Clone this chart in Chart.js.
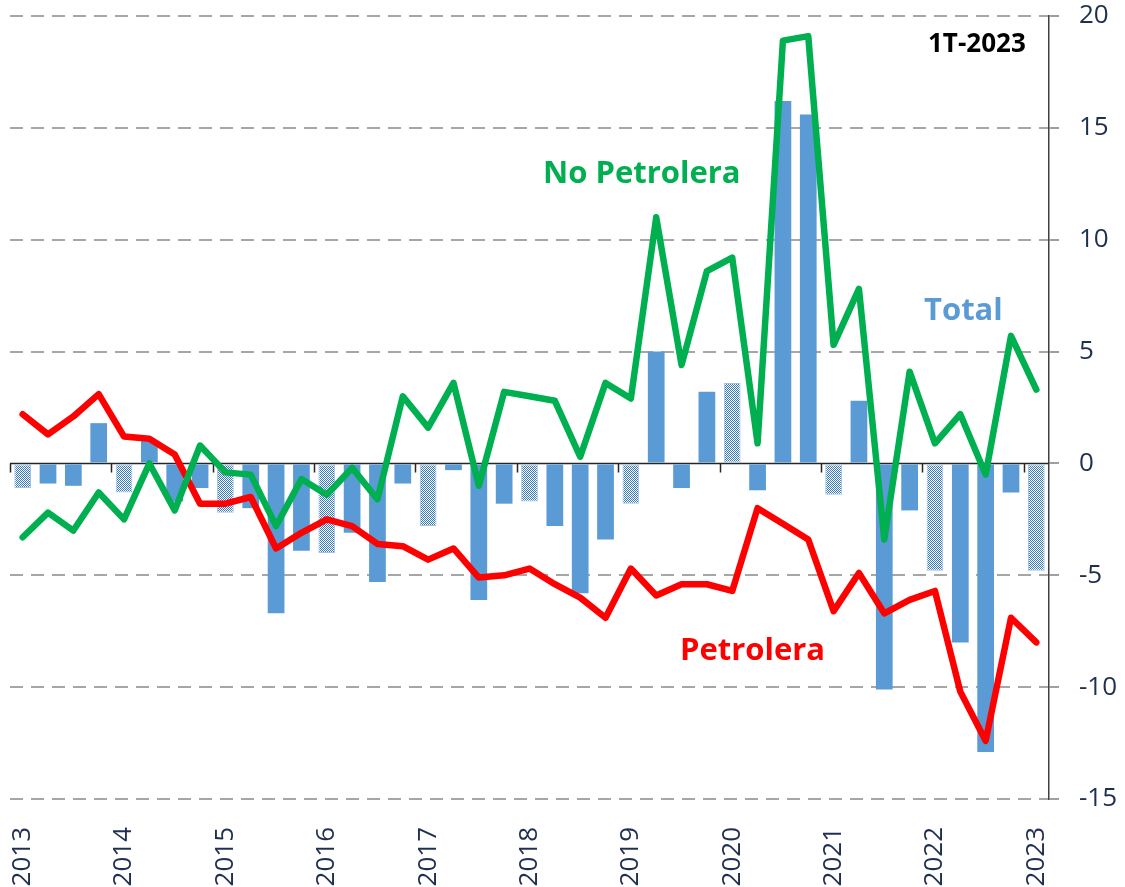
<!DOCTYPE html>
<html>
<head>
<meta charset="utf-8">
<script src="https://cdn.jsdelivr.net/npm/chart.js@4.4.1/dist/chart.umd.min.js"></script>
<style>
    html, body { margin: 0; padding: 0; background: #fff; }
    #wrap { width: 1125px; height: 887px; position: relative; }
</style>
</head>
<body>
<div id="wrap"><canvas id="balanceChart" width="1125" height="887"></canvas></div>
<script>
// Quarters 2013T1 .. 2023T1
const quarters = [
    "2013T1", "2013T2", "2013T3", "2013T4",
    "2014T1", "2014T2", "2014T3", "2014T4",
    "2015T1", "2015T2", "2015T3", "2015T4",
    "2016T1", "2016T2", "2016T3", "2016T4",
    "2017T1", "2017T2", "2017T3", "2017T4",
    "2018T1", "2018T2", "2018T3", "2018T4",
    "2019T1", "2019T2", "2019T3", "2019T4",
    "2020T1", "2020T2", "2020T3", "2020T4",
    "2021T1", "2021T2", "2021T3", "2021T4",
    "2022T1", "2022T2", "2022T3", "2022T4",
    "2023T1",
];

const total = [
    -1.1, -0.9, -1.0, 1.8, -1.3, 1.0, -1.7, -1.1, -2.2, -2.0, -6.7, -3.9,
    -4.0, -3.1, -5.3, -0.9, -2.8, -0.3, -6.1, -1.8, -1.7, -2.8, -5.8, -3.4,
    -1.8, 5.0, -1.1, 3.2, 3.6, -1.2, 16.2, 15.6, -1.4, 2.8, -10.1, -2.1,
    -4.8, -8.0, -12.9, -1.3, -4.8,
];

const petrolera = [
    2.2, 1.3, 2.1, 3.1, 1.2, 1.1, 0.4, -1.8, -1.8, -1.5, -3.8, -3.1,
    -2.5, -2.8, -3.6, -3.7, -4.3, -3.8, -5.1, -5.0, -4.7, -5.4, -6.0, -6.9,
    -4.7, -5.9, -5.4, -5.4, -5.7, -2.0, -2.7, -3.4, -6.6, -4.9, -6.7, -6.1,
    -5.7, -10.2, -12.4, -6.9, -8.0,
];

const noPetrolera = [
    -3.3, -2.2, -3.0, -1.3, -2.5, 0.0, -2.1, 0.8, -0.4, -0.5, -2.8, -0.7,
    -1.4, -0.2, -1.6, 3.0, 1.6, 3.6, -1.0, 3.2, 3.0, 2.8, 0.3, 3.6,
    2.9, 11.0, 4.4, 8.6, 9.2, 0.9, 18.9, 19.1, 5.3, 7.8, -3.4, 4.1,
    0.9, 2.2, -0.5, 5.7, 3.3,
];

const yTicks = [-15, -10, -5, 0, 5, 10, 15, 20];

const BLUE = "#5B9BD5";
const NAVY = "#1F2F4F";
const FONT = "'Open Sans', 'DejaVu Sans', sans-serif";

// checkered fill for first-quarter bars
function makeChecker() {
    const c = document.createElement("canvas");
    c.width = 2;
    c.height = 2;
    const g = c.getContext("2d");
    g.fillStyle = "#ffffff";
    g.fillRect(0, 0, 2, 2);
    g.fillStyle = "#3A78BE";
    g.fillRect(0, 0, 1, 1);
    g.fillRect(1, 1, 1, 1);
    return g.createPattern(c, "repeat");
}

const ctx = document.getElementById("balanceChart").getContext("2d");
const checker = makeChecker();
const isQ1 = (i) => quarters[i].endsWith("T1");

// zero line + year marks on it
const zeroLine = {
    id: "zeroLine",
    beforeDatasetsDraw(chart) {
        const { ctx, chartArea, scales } = chart;
        const y0 = scales.y.getPixelForValue(0);
        const step = scales.x.getPixelForValue(1) - scales.x.getPixelForValue(0);
        ctx.save();
        ctx.strokeStyle = "#262626";
        ctx.lineWidth = 1.5;
        ctx.beginPath();
        ctx.moveTo(chartArea.left, y0);
        ctx.lineTo(chartArea.right, y0);
        quarters.forEach((q, i) => {
            if (!isQ1(i)) return;
            const x = Math.round(scales.x.getPixelForValue(i) - step / 2) + 0.5;
            ctx.moveTo(x, y0);
            ctx.lineTo(x, y0 + 9);
        });
        ctx.stroke();
        ctx.restore();
    },
};

// series labels
const seriesText = {
    id: "seriesText",
    afterDraw(chart) {
        const c = chart.ctx;
        c.save();
        c.textBaseline = "alphabetic";
        c.textAlign = "left";
        c.font = "bold 31px " + FONT;
        c.fillStyle = "#00B050";
        c.fillText("No Petrolera", 543, 183);
        c.fillStyle = "#FF0000";
        c.fillText("Petrolera", 680, 660);
        c.fillStyle = BLUE;
        c.fillText("Total", 924, 320);
        c.font = "bold 26px " + FONT;
        c.fillStyle = "#000000";
        c.fillText("1T-2023", 928, 52);
        c.restore();
    },
};

new Chart(ctx, {
    type: "bar",
    data: {
        labels: quarters,
        datasets: [
            {
                type: "line",
                label: "No Petrolera",
                data: noPetrolera,
                borderColor: "#00B050",
                borderWidth: 6.5,
                tension: 0,
                pointRadius: 0,
                borderJoinStyle: "round",
                borderCapStyle: "round",
                fill: false,
                order: 0,
            },
            {
                type: "line",
                label: "Petrolera",
                data: petrolera,
                borderColor: "#FF0000",
                borderWidth: 6.5,
                tension: 0,
                pointRadius: 0,
                borderJoinStyle: "round",
                borderCapStyle: "round",
                fill: false,
                order: 1,
            },
            {
                label: "Total",
                data: total,
                backgroundColor: quarters.map((q, i) => (isQ1(i) ? checker : BLUE)),
                borderColor: quarters.map((q, i) => (isQ1(i) ? "#9DC3E6" : BLUE)),
                borderWidth: quarters.map((q, i) => (isQ1(i) ? 1 : 0)),
                borderSkipped: false,
                categoryPercentage: 1,
                barPercentage: 0.66,
                order: 2,
            },
        ],
    },
    options: {
        responsive: false,
        animation: false,
        layout: {
            padding: { left: 10, top: 16, right: 0, bottom: 0 },
        },
        plugins: {
            legend: { display: false },
            tooltip: { enabled: false },
        },
        scales: {
            x: {
                grid: { display: false },
                border: { display: false },
                ticks: {
                    autoSkip: false,
                    maxRotation: 90,
                    minRotation: 90,
                    padding: 20,
                    color: NAVY,
                    font: { size: 26, family: FONT },
                    callback: (value, i) => (isQ1(i) ? quarters[i].slice(0, 4) : ""),
                },
                afterFit: (scale) => {
                    scale.height = 88;
                },
            },
            y: {
                position: "right",
                min: -15,
                max: 20,
                afterBuildTicks: (scale) => {
                    scale.ticks = yTicks.map((v) => ({ value: v }));
                },
                afterFit: (scale) => {
                    scale.width = 76;
                    scale.paddingTop = 0;
                    scale.paddingBottom = 0;
                },
                grid: {
                    color: (c) => (c.tick && c.tick.value === 0 ? "rgba(0,0,0,0)" : "#A6A6A6"),
                    lineWidth: 2,
                    tickLength: 10,
                    tickColor: "#7F7F7F",
                    tickWidth: 1.5,
                    tickBorderDash: [],
                },
                border: {
                    display: true,
                    color: "#404040",
                    width: 1.5,
                    dash: (c) => (c.tick ? [13, 8] : []),
                },
                ticks: {
                    padding: 20,
                    color: NAVY,
                    font: { size: 26, family: FONT },
                    callback: (v) => v,
                },
            },
        },
    },
    plugins: [zeroLine, seriesText],
});
</script>
</body>
</html>
